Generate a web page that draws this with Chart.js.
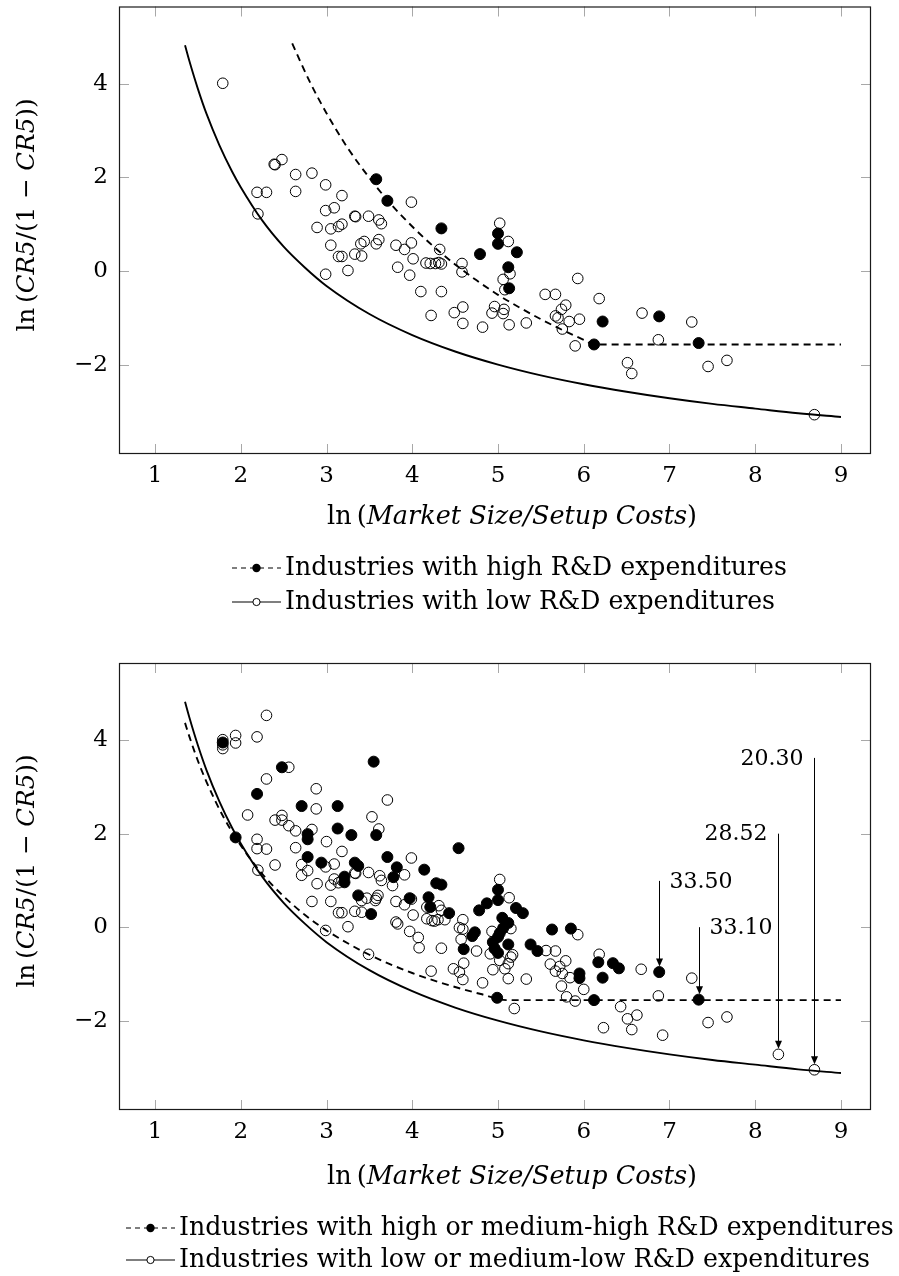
<!DOCTYPE html>
<html>
<head>
<meta charset="utf-8">
<script src="https://cdn.jsdelivr.net/npm/chart.js@4.4.0/dist/chart.umd.min.js"></script>
<style>
html,body{margin:0;padding:0;background:#fff;}
canvas{display:block;}
</style>
</head>
<body>
<canvas id="c1" width="899" height="640"></canvas>
<canvas id="c2" width="899" height="636"></canvas>
<script>
// ---------- tick labels ----------
const xTicks = [1,2,3,4,5,6,7,8,9];
const yTicks = [-2,0,2,4];

// ---------- top panel ----------
const topHighRD = [[3.58,1.96],[3.71,1.50],[4.34,0.91],[4.79,0.36],[5.00,0.80],[5.00,0.58],[5.22,0.40],[5.12,0.08],[5.13,-0.37],[6.22,-1.08],[6.12,-1.57],[6.88,-0.97],[7.34,-1.54]];
const topLowRD = [[1.79,4.01],[2.39,2.28],[2.40,2.27],[2.48,2.38],[2.64,2.06],[2.83,2.09],[2.99,1.84],[3.18,1.61],[3.99,1.47],[2.19,1.68],[2.30,1.68],[2.64,1.70],[2.20,1.22],[2.99,1.29],[3.09,1.35],[3.33,1.17],[3.34,1.16],[3.49,1.17],[3.61,1.09],[3.64,1.01],[2.89,0.93],[3.05,0.90],[3.14,0.95],[3.18,1.00],[3.05,0.55],[3.14,0.31],[3.18,0.31],[3.33,0.36],[3.41,0.32],[3.40,0.58],[3.44,0.63],[3.58,0.58],[3.61,0.67],[3.81,0.55],[3.91,0.46],[3.99,0.60],[4.01,0.26],[3.83,0.08],[3.97,-0.09],[4.16,0.17],[4.21,0.16],[4.27,0.16],[4.31,0.18],[4.34,0.15],[4.32,0.46],[4.58,0.16],[4.58,-0.02],[2.99,-0.07],[3.25,0.01],[4.10,-0.44],[4.34,-0.44],[4.22,-0.95],[4.49,-0.89],[4.59,-0.77],[4.59,-1.12],[4.82,-1.20],[4.96,-0.76],[4.93,-0.90],[5.07,-0.82],[5.06,-0.91],[5.02,1.02],[5.12,0.63],[5.14,-0.06],[5.06,-0.18],[5.08,-0.40],[5.13,-1.15],[5.33,-1.11],[5.55,-0.50],[5.67,-0.50],[5.93,-0.16],[6.18,-0.59],[5.79,-0.73],[5.74,-0.82],[5.67,-0.96],[5.70,-1.00],[5.83,-1.08],[5.95,-1.03],[5.75,-1.24],[5.90,-1.60],[6.51,-1.96],[6.56,-2.19],[6.68,-0.90],[6.87,-1.47],[7.26,-1.09],[7.45,-2.04],[7.67,-1.91],[8.69,-3.07]];
const lowCurve = [[1.35,4.82],[1.4,4.49],[1.5,3.89],[1.6,3.36],[1.75,2.69],[1.9,2.12],[2.0,1.79],[2.25,1.08],[2.5,0.52],[2.75,0.07],[3.0,-0.32],[3.5,-0.92],[4.0,-1.37],[4.5,-1.72],[5.0,-2.00],[5.5,-2.23],[6.0,-2.42],[6.5,-2.58],[7.0,-2.72],[7.5,-2.84],[8.0,-2.94],[8.5,-3.04],[9.0,-3.12]];
const topHighCurve = [[2.60,4.86],[2.8,4.06],[3.0,3.37],[3.25,2.62],[3.5,1.99],[3.75,1.43],[4.0,0.95],[4.25,0.52],[4.5,0.14],[4.75,-0.20],[5.0,-0.51],[5.25,-0.78],[5.5,-1.03],[5.75,-1.26],[6.0,-1.47],[6.12,-1.57],[9.0,-1.57]];

// ---------- bottom panel ----------
const botHighRD = [[1.79,3.95],[2.48,3.42],[3.55,3.54],[2.19,2.85],[2.71,2.59],[3.13,2.59],[3.13,2.11],[3.58,1.97],[3.29,1.97],[2.78,1.99],[2.78,1.88],[1.94,1.92],[2.78,1.50],[2.94,1.38],[3.71,1.50],[3.33,1.38],[3.37,1.31],[3.82,1.28],[3.78,1.07],[3.21,1.08],[3.21,0.96],[3.37,0.68],[3.52,0.28],[3.97,0.62],[4.54,1.69],[4.14,1.23],[4.28,0.94],[4.34,0.91],[5.00,0.80],[5.00,0.58],[4.87,0.51],[4.78,0.36],[5.21,0.41],[5.29,0.30],[4.19,0.64],[4.21,0.43],[4.43,0.30],[4.73,-0.11],[4.70,-0.19],[4.60,-0.47],[5.05,0.20],[5.12,0.09],[5.06,-0.02],[5.02,-0.13],[5.00,-0.21],[4.94,-0.32],[5.12,-0.37],[4.96,-0.46],[5.00,-0.55],[4.99,-1.51],[5.38,-0.37],[5.46,-0.51],[5.63,-0.05],[5.85,-0.03],[5.95,-0.99],[5.95,-1.09],[6.12,-1.56],[6.17,-0.75],[6.22,-1.08],[6.34,-0.77],[6.41,-0.88],[6.88,-0.96],[7.34,-1.55]];
const botLowRD = [[2.30,4.53],[1.79,4.01],[1.79,3.90],[1.79,3.82],[1.94,4.10],[1.94,3.94],[2.19,4.07],[2.56,3.42],[2.30,3.17],[2.88,2.96],[3.71,2.72],[2.88,2.53],[2.08,2.40],[2.40,2.29],[2.48,2.39],[2.48,2.29],[3.53,2.36],[3.61,2.10],[2.56,2.17],[2.64,2.06],[2.83,2.09],[3.00,1.83],[2.19,1.88],[2.19,1.68],[2.30,1.67],[2.64,1.70],[3.18,1.62],[3.99,1.48],[2.40,1.33],[2.71,1.34],[2.78,1.21],[2.71,1.11],[2.20,1.22],[2.89,0.93],[3.05,0.90],[2.99,1.29],[3.09,1.35],[3.33,1.16],[3.34,1.15],[3.49,1.17],[3.62,1.10],[3.64,1.00],[3.91,1.12],[3.09,1.03],[3.14,0.95],[3.18,1.00],[3.77,0.89],[2.83,0.55],[3.05,0.55],[3.41,0.57],[3.47,0.62],[3.58,0.62],[3.60,0.68],[3.57,0.57],[3.81,0.55],[3.91,0.48],[3.99,0.60],[3.14,0.31],[3.18,0.31],[3.33,0.34],[3.41,0.32],[4.01,0.26],[3.81,0.11],[3.83,0.07],[3.97,-0.09],[4.07,-0.22],[4.08,-0.44],[3.25,0.01],[2.99,-0.07],[3.49,-0.58],[4.17,0.43],[4.31,0.46],[4.34,0.36],[4.17,0.18],[4.23,0.14],[4.26,0.13],[4.30,0.16],[4.38,0.16],[4.59,0.16],[4.55,-0.01],[4.59,-0.04],[4.34,-0.45],[4.57,-0.26],[4.75,-0.51],[5.02,1.02],[5.13,0.63],[4.93,-0.09],[5.15,-0.03],[4.96,-0.45],[4.91,-0.57],[5.02,-0.71],[5.15,-0.64],[5.17,-0.59],[5.12,-0.78],[5.08,-0.89],[4.94,-0.91],[5.12,-1.10],[4.48,-0.89],[4.55,-0.96],[4.60,-0.77],[4.59,-1.12],[4.22,-0.94],[4.82,-1.19],[5.19,-1.74],[5.33,-1.11],[5.67,-0.51],[5.56,-0.50],[5.93,-0.16],[5.61,-0.79],[5.67,-0.94],[5.72,-0.84],[5.79,-0.72],[5.75,-0.99],[5.84,-1.08],[5.74,-1.26],[5.80,-1.49],[5.90,-1.58],[6.00,-1.33],[6.18,-0.58],[6.67,-0.90],[6.87,-1.47],[6.43,-1.70],[6.51,-1.96],[6.62,-1.88],[6.56,-2.19],[6.23,-2.15],[6.92,-2.31],[7.26,-1.09],[7.45,-2.04],[7.67,-1.92],[8.27,-2.72],[8.69,-3.05]];
const botHighCurve = [[1.35,4.37],[1.4,4.08],[1.5,3.56],[1.6,3.11],[1.8,2.35],[2.0,1.75],[2.25,1.14],[2.5,0.66],[2.75,0.26],[3.0,-0.07],[3.5,-0.59],[4.0,-0.98],[4.5,-1.28],[4.8,-1.43],[5.1,-1.56],[9.0,-1.56]];

// annotations (bottom panel)
const annLabels = ['33.50','33.10','28.52','20.30'];
const annX = [6.88, 7.34, 8.27, 8.69];
const annFrom = [0.99, 0.00, 2.00, 3.62];
const annTo = [-0.96, -1.55, -2.72, -3.05];
const annSide = ['right','right','left','left'];

// ---------- helpers ----------
const SERIF = '"DejaVu Serif", "Liberation Serif", serif';
function fontStr(size, it){ return (it ? 'italic ' : '') + size.toFixed(2) + 'px ' + SERIF; }
function segWidth(ctx, segs, size){
  let w = 0;
  segs.forEach(s => { ctx.font = fontStr(size, s.it); w += ctx.measureText(s.t).width; });
  return w;
}
function fitSize(ctx, segs, target){ return 100 * target / segWidth(ctx, segs, 100); }
function drawSegs(ctx, segs, x, y, size){
  let cx = x;
  ctx.textAlign = 'left'; ctx.textBaseline = 'middle';
  segs.forEach(s => { ctx.font = fontStr(size, s.it); ctx.fillText(s.t, cx, y); cx += ctx.measureText(s.t).width; });
}
function pts(a){ return a.map(p => ({x:p[0], y:p[1]})); }

const xTitle = [{t:'ln\u2009(',it:false},{t:'Market Size/Setup Costs',it:true},{t:')',it:false}];
const yTitle = [{t:'ln\u2009(',it:false},{t:'CR5',it:true},{t:'/(1 \u2212 ',it:false},{t:'CR5',it:true},{t:'))',it:false}];

function legendSym(ctx, x0, x1, y, dashed){
  ctx.save();
  ctx.strokeStyle = '#000'; ctx.lineWidth = 1.2;
  if (dashed) ctx.setLineDash([5,4]);
  ctx.beginPath(); ctx.moveTo(x0, y); ctx.lineTo(x1, y); ctx.stroke();
  ctx.setLineDash([]);
  const cx = (x0 + x1) / 2;
  ctx.beginPath(); ctx.arc(cx, y, dashed ? 4.2 : 3.6, 0, Math.PI * 2);
  if (dashed) { ctx.fillStyle = '#000'; ctx.fill(); }
  else { ctx.fillStyle = '#fff'; ctx.fill(); ctx.lineWidth = 1; ctx.stroke(); }
  ctx.restore();
}

const decorPlugin = {
  id: 'decor',
  beforeDatasetsDraw(chart){
    const {ctx, chartArea:a, scales:{x, y}} = chart;
    ctx.save();
    ctx.strokeStyle = '#a8a8a8'; ctx.lineWidth = 1;
    const TL = 10;
    ctx.beginPath();
    x.ticks.forEach(t => { const px = Math.round(x.getPixelForValue(t.value)) + 0.5;
      ctx.moveTo(px, a.bottom); ctx.lineTo(px, a.bottom - TL); ctx.moveTo(px, a.top); ctx.lineTo(px, a.top + TL); });
    y.ticks.forEach(t => { const py = Math.round(y.getPixelForValue(t.value)) + 0.5;
      ctx.moveTo(a.left, py); ctx.lineTo(a.left + TL, py); ctx.moveTo(a.right, py); ctx.lineTo(a.right - TL, py); });
    ctx.stroke();
    ctx.restore();
  },
  afterDraw(chart, args, o){
    const {ctx, chartArea:a, scales:{x, y}} = chart;
    ctx.save();
    // frame
    ctx.strokeStyle = '#1a1a1a'; ctx.lineWidth = 1.2;
    ctx.strokeRect(a.left + 0.5, a.top + 0.5, a.right - a.left - 1, a.bottom - a.top - 1);
    ctx.fillStyle = '#000';
    // x title
    const xs = fitSize(ctx, xTitle, o.xTitleW);
    const xw = segWidth(ctx, xTitle, xs);
    drawSegs(ctx, xTitle, o.xTitleCx - xw / 2, o.xTitleY, xs);
    // y title
    const ys = fitSize(ctx, yTitle, o.yTitleW);
    const yw = segWidth(ctx, yTitle, ys);
    ctx.save();
    ctx.translate(o.yTitleX, o.yTitleCy);
    ctx.rotate(-Math.PI / 2);
    drawSegs(ctx, yTitle, -yw / 2, 0, ys);
    ctx.restore();
    // legend
    const lsize = fitSize(ctx, [{t:o.legend[0].text}], o.legendW);
    o.legend.forEach(item => {
      legendSym(ctx, o.symX0, o.symX1, item.y, item.dashed);
      ctx.fillStyle = '#000';
      drawSegs(ctx, [{t:item.text}], o.textX, item.y, lsize);
    });
    // annotations
    if (o.annotate) {
      ctx.font = fontStr(22, false);
      ctx.textBaseline = 'middle';
      annLabels.forEach((lab, i) => {
        const px = Math.round(x.getPixelForValue(annX[i])) + 0.5;
        const p0 = y.getPixelForValue(annFrom[i]);
        const tip = y.getPixelForValue(annTo[i]) - 5.5;
        ctx.strokeStyle = '#000'; ctx.lineWidth = 1;
        ctx.beginPath(); ctx.moveTo(px, p0); ctx.lineTo(px, tip - 6); ctx.stroke();
        ctx.beginPath(); ctx.moveTo(px, tip); ctx.lineTo(px - 3.5, tip - 8); ctx.lineTo(px + 3.5, tip - 8); ctx.closePath();
        ctx.fillStyle = '#000'; ctx.fill();
        if (annSide[i] === 'right') { ctx.textAlign = 'left'; ctx.fillText(lab, px + 10, p0 + 1); }
        else { ctx.textAlign = 'right'; ctx.fillText(lab, px - 11, p0 + 1); }
      });
    }
    ctx.restore();
  }
};

function makeChart(id, highPts, lowPts, highCurve, lowCurvePts, frameTop, frameBottom, canvasH, decor){
  const ctx = document.getElementById(id).getContext('2d');
  return new Chart(ctx, {
    type: 'scatter',
    data: { datasets: [
      { data: pts(highPts), pointRadius: 5.5, pointBorderWidth: 1, borderColor: '#000', backgroundColor: '#000', showLine: false },
      { data: pts(lowPts), pointRadius: 5.3, pointBorderWidth: 1, borderColor: '#000', backgroundColor: 'rgba(0,0,0,0)', showLine: false },
      { data: pts(highCurve), showLine: true, pointRadius: 0, borderColor: '#000', borderWidth: 1.9, borderDash: [7,5], cubicInterpolationMode: 'monotone', fill: false },
      { data: pts(lowCurvePts), showLine: true, pointRadius: 0, borderColor: '#000', borderWidth: 1.9, cubicInterpolationMode: 'monotone', fill: false }
    ]},
    options: {
      responsive: false, animation: false, devicePixelRatio: 1, events: [],
      layout: { padding: { top: frameTop, right: 28, bottom: 0, left: 0 } },
      plugins: { legend: { display: false }, tooltip: { enabled: false }, decor: decor },
      scales: {
        x: {
          type: 'linear', min: 0.58, max: 9.35,
          grid: { display: false, drawTicks: false }, border: { display: false },
          afterBuildTicks: s => { s.ticks = xTicks.map(v => ({value: v})); },
          afterFit: s => { s.height = canvasH - frameBottom; s.paddingLeft = 0; s.paddingRight = 0; },
          ticks: { color: '#000', padding: 8, font: { family: SERIF, size: 23 }, maxRotation: 0,
                   callback: v => (v < 0 ? '\u2212' + Math.abs(v) : String(v)) }
        },
        y: {
          type: 'linear', min: -3.91, max: 5.65,
          grid: { display: false, drawTicks: false }, border: { display: false },
          afterBuildTicks: s => { s.ticks = yTicks.map(v => ({value: v})); },
          afterFit: s => { s.width = 119; s.paddingTop = 0; s.paddingBottom = 0; },
          ticks: { color: '#000', padding: 11, font: { family: SERIF, size: 23 },
                   callback: v => (v < 0 ? '\u2212' + Math.abs(v) : String(v)) }
        }
      }
    },
    plugins: [decorPlugin]
  });
}

makeChart('c1', topHighRD, topLowRD, topHighCurve, lowCurve, 6, 454, 640, {
  xTitleCx: 512, xTitleY: 517, xTitleW: 370,
  yTitleX: 28, yTitleCy: 215, yTitleW: 233,
  symX0: 232, symX1: 281, textX: 285, legendW: 502,
  legend: [ {y: 568, dashed: true, text: 'Industries with high R&D expenditures'},
            {y: 602, dashed: false, text: 'Industries with low R&D expenditures'} ],
  annotate: false
});
makeChart('c2', botHighRD, botLowRD, botHighCurve, lowCurve, 23, 470, 636, {
  xTitleCx: 512, xTitleY: 537, xTitleW: 370,
  yTitleX: 28, yTitleCy: 231, yTitleW: 233,
  symX0: 126, symX1: 175, textX: 179, legendW: 715,
  legend: [ {y: 588, dashed: true, text: 'Industries with high or medium-high R&D expenditures'},
            {y: 620, dashed: false, text: 'Industries with low or medium-low R&D expenditures'} ],
  annotate: true
});
</script>
</body>
</html>
